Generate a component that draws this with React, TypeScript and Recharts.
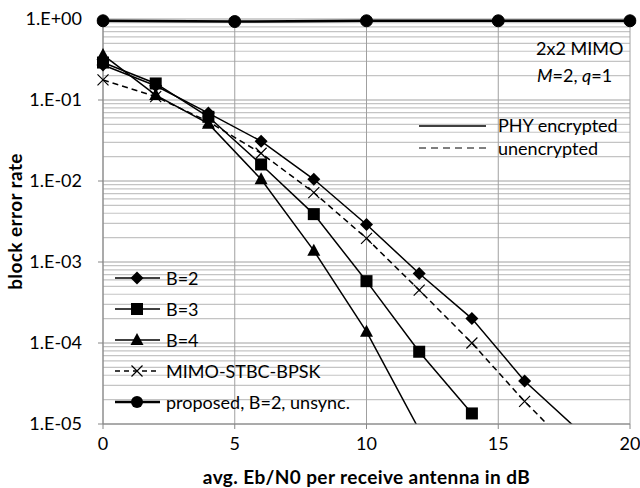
import React from 'react';
import { ComposedChart, Line, XAxis, YAxis, CartesianGrid, Legend, Label } from 'recharts';

// Eb/N0 in dB
const snr = [0, 2, 4, 6, 8, 10, 12, 14, 16, 18];
const b2 = [0.27, 0.15, 0.069, 0.031, 0.0105, 0.0029, 0.00072, 0.0002, 0.000034, 0.0000086];
const b3 = [0.29, 0.16, 0.062, 0.016, 0.0039, 0.00058, 0.000078, 0.0000135, null, null];
const b4 = [0.36, 0.115, 0.051, 0.0105, 0.00138, 0.000138, 0.0000085, null, null, null];
const stbc = [0.177, 0.11, 0.054, 0.022, 0.0072, 0.00196, 0.00045, 0.0001, 0.000019, 0.0000042];

const unsyncSnr = [0, 5, 10, 15, 20];
const unsync = [0.95, 0.93, 0.95, 0.95, 0.95];

const seriesNames = ['B=2', 'B=3', 'B=4', 'MIMO-STBC-BPSK', 'proposed, B=2, unsync.'];
const xTicks = [0, 5, 10, 15, 20];
const yTicks = [1e-5, 1e-4, 1e-3, 1e-2, 1e-1, 1];
const minorTicks = yTicks.slice(0, -1).flatMap((d) => [2, 3, 4, 5, 6, 7, 8, 9].map((m) => d * m));

const rows = snr.map((x, i) => ({ x, b2: b2[i], b3: b3[i], b4: b4[i], stbc: stbc[i] }));
const unsyncRows = unsyncSnr.map((x, i) => ({ x, y: unsync[i] }));

const FONT = 'Lato, "Open Sans", sans-serif';
const Y_MIN = 1e-5;

const fmtExp = (v: number) => {
  const e = Math.round(Math.log10(v));
  return `1.E${e >= 0 ? '+' : '-'}${String(Math.abs(e)).padStart(2, '0')}`;
};

// minor log gridlines, placed with the y axis scale
const minorGridCoords = (props: any) => {
  const scale = props?.yAxis?.scale;
  if (typeof scale === 'function') return minorTicks.map((v) => scale(v));
  const { top, height } = props.offset;
  return minorTicks.map((v) => top + (height * -Math.log10(v)) / 5);
};

const markerShape = (shape: string, cx: number, cy: number, key?: string) => {
  if (shape === 'diamond') {
    return <polygon key={key} points={`${cx},${cy - 6.5} ${cx + 6.5},${cy} ${cx},${cy + 6.5} ${cx - 6.5},${cy}`} fill="#000" />;
  }
  if (shape === 'square') {
    return <rect key={key} x={cx - 6} y={cy - 6} width={12} height={12} fill="#000" />;
  }
  if (shape === 'triangle') {
    return <polygon key={key} points={`${cx},${cy - 7} ${cx + 6.5},${cy + 5} ${cx - 6.5},${cy + 5}`} fill="#000" />;
  }
  if (shape === 'cross') {
    return (
      <path key={key} d={`M${cx - 5.5},${cy - 5.5}L${cx + 5.5},${cy + 5.5}M${cx - 5.5},${cy + 5.5}L${cx + 5.5},${cy - 5.5}`} stroke="#000" strokeWidth={1.2} fill="none" />
    );
  }
  return <circle key={key} cx={cx} cy={cy} r={6} fill="#000" />;
};

const dotFor = (shape: string) => (p: any) => {
  const key = `${shape}-${p.index}`;
  if (p.value == null || p.value < Y_MIN || p.cx == null || p.cy == null) return <g key={key} />;
  return markerShape(shape, p.cx, p.cy, key);
};

const legendShapes = ['diamond', 'square', 'triangle', 'cross', 'circle'];

const LegendBox = () => (
  <div style={{ fontFamily: FONT, fontSize: 18, color: '#000' }}>
    {seriesNames.map((name, i) => (
      <div key={name} style={{ display: 'flex', alignItems: 'center', height: 31 }}>
        <svg width={50} height={20} style={{ display: 'block' }}>
          <line x1={0} y1={10} x2={45} y2={10} stroke="#000" strokeWidth={i === 4 ? 2.5 : 1.5} strokeDasharray={i === 3 ? '5 4' : undefined} />
          {markerShape(legendShapes[i], 22, 10)}
        </svg>
        <span style={{ marginLeft: 1, whiteSpace: 'nowrap' }}>{name}</span>
      </div>
    ))}
  </div>
);

const tickStyle = { fill: '#000', fontSize: 18, fontFamily: FONT };
const titleStyle = { fontWeight: 700, fontSize: 19, letterSpacing: 0.4, fill: '#000', fontFamily: FONT };
const noteStyle: React.CSSProperties = { position: 'absolute', fontSize: 18, lineHeight: '24px', color: '#000', whiteSpace: 'nowrap' };

const App = () => {
  return (
    <div style={{ position: 'absolute', left: 0, top: 0, width: 640, height: 488, fontFamily: FONT }}>
      <ComposedChart width={640} height={488} data={rows} margin={{ top: 19, right: 10, left: 0, bottom: 0 }}>
        <CartesianGrid stroke="#c4c4c4" strokeWidth={1.2} fill="none" vertical={false} horizontalCoordinatesGenerator={minorGridCoords} />
        <CartesianGrid stroke="#a0a0a0" fill="none" />
        <XAxis
          dataKey="x"
          type="number"
          domain={[0, 20]}
          ticks={xTicks}
          height={64}
          tickSize={5}
          tickMargin={8}
          stroke="#868686"
          tick={tickStyle}
        >
          <Label value="avg. Eb/N0 per receive antenna in dB" position="insideBottom" offset={4} style={titleStyle} />
        </XAxis>
        <YAxis
          type="number"
          scale="log"
          domain={[Y_MIN, 1]}
          ticks={yTicks}
          allowDataOverflow
          width={103}
          tickSize={5}
          tickMargin={16}
          tickFormatter={fmtExp}
          stroke="#868686"
          tick={tickStyle}
        >
          <Label value="block error rate" angle={-90} position="insideLeft" offset={15} style={{ ...titleStyle, textAnchor: 'middle' }} />
        </YAxis>
        <Line dataKey="b2" name={seriesNames[0]} stroke="#000" strokeWidth={1.5} dot={dotFor('diamond')} isAnimationActive={false} />
        <Line dataKey="b3" name={seriesNames[1]} stroke="#000" strokeWidth={1.5} dot={dotFor('square')} isAnimationActive={false} />
        <Line dataKey="b4" name={seriesNames[2]} stroke="#000" strokeWidth={1.5} dot={dotFor('triangle')} isAnimationActive={false} />
        <Line dataKey="stbc" name={seriesNames[3]} stroke="#000" strokeWidth={1.5} strokeDasharray="6 4" dot={dotFor('cross')} isAnimationActive={false} />
        <Line
          data={unsyncRows}
          dataKey="y"
          name={seriesNames[4]}
          stroke="#000"
          strokeWidth={2.5}
          dot={{ r: 6, fill: '#000', stroke: '#000', strokeWidth: 1, clipDot: false }}
          isAnimationActive={false}
        />
        <Legend
          layout="vertical"
          align="center"
          verticalAlign="middle"
          wrapperStyle={{ left: 115, top: 262, width: 260 }}
          content={() => <LegendBox />}
        />
      </ComposedChart>

      <div style={{ ...noteStyle, left: 536, top: 36 }}>2x2 MIMO</div>
      <div style={{ ...noteStyle, left: 537, top: 63 }}>
        <i>M</i>=2, <i>q</i>=1
      </div>
      <svg style={{ position: 'absolute', left: 419, top: 116 }} width={70} height={36}>
        <line x1={0} y1={10} x2={67} y2={10} stroke="#000" strokeWidth={1.5} />
        <line x1={0} y1={32} x2={67} y2={32} stroke="#000" strokeWidth={1.2} strokeDasharray="7 5" />
      </svg>
      <div style={{ ...noteStyle, left: 498, top: 113 }}>PHY encrypted</div>
      <div style={{ ...noteStyle, left: 498, top: 136 }}>unencrypted</div>
    </div>
  );
};

export default App;
